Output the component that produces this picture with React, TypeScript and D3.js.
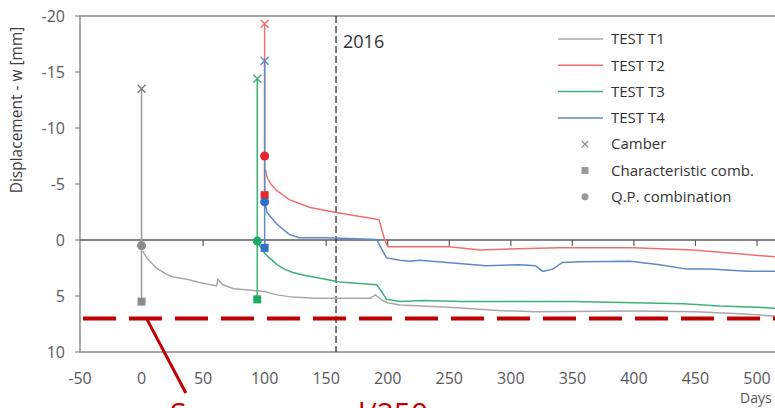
import React, { useEffect, useRef } from 'react';
import * as d3 from 'd3';

// per-test data (days since loading / displacement in mm, negative = upward)
const testNames = ['TEST T1', 'TEST T2', 'TEST T3', 'TEST T4'];
const testColors = ['#a8a8a8', '#f07070', '#3fb27a', '#5a8ac8'];
const markerColors = ['#8c8c8c', '#e8262b', '#1ea866', '#2f6fc4'];
const loadDay = [0, 100, 94, 100];
const camber = [-13.5, -19.3, -14.4, -16.0];
const charComb = [5.5, -4.0, 5.3, 0.7];
const qpComb = [0.5, -7.5, 0.1, -3.4];

const t1Days = [1, 5, 12, 20, 26, 37, 47, 61, 62, 66, 75, 91, 100, 110, 123, 140, 160, 186, 190, 196, 200, 210, 250, 290, 320, 400, 450, 490, 515];
const t1Disp = [1.0, 1.7, 2.5, 3.05, 3.3, 3.5, 3.8, 4.1, 3.5, 4.0, 4.35, 4.5, 4.6, 4.9, 5.1, 5.2, 5.2, 5.2, 4.9, 5.4, 5.6, 5.8, 6.0, 6.3, 6.4, 6.35, 6.4, 6.6, 6.8];

const t2Days = [100.5, 102, 105, 110, 120, 137, 158, 175, 191, 193, 197, 200, 250, 275, 313, 340, 360, 400, 448, 470, 492, 515];
const t2Disp = [-6.3, -5.6, -5.0, -4.4, -3.6, -2.9, -2.45, -2.15, -1.85, -1.8, -0.2, 0.6, 0.6, 0.9, 0.75, 0.7, 0.7, 0.7, 0.9, 1.1, 1.3, 1.5];

const t3Days = [95, 100, 104, 110, 116, 123, 132, 142, 161, 191, 195, 199, 210, 230, 260, 300, 350, 400, 440, 470, 500, 515];
const t3Disp = [0.3, 1.2, 1.6, 2.2, 2.6, 2.9, 3.15, 3.35, 3.75, 4.0, 4.6, 5.3, 5.5, 5.4, 5.5, 5.5, 5.5, 5.6, 5.7, 5.9, 6.0, 6.1];

const t4Days = [100, 102, 110, 120, 128, 150, 191, 195, 199, 210, 218, 226, 248, 280, 307, 320, 326, 334, 342, 356, 397, 421, 443, 462, 492, 515];
const t4Disp = [-3.4, -2.45, -1.4, -0.5, -0.2, -0.2, -0.05, 0.8, 1.6, 1.8, 1.9, 1.8, 2.0, 2.3, 2.2, 2.3, 2.8, 2.6, 2.0, 1.95, 1.9, 2.2, 2.6, 2.6, 2.8, 2.8];

const xTicks = [-50, 0, 50, 100, 150, 200, 250, 300, 350, 400, 450, 500];
const yTicks = [-20, -15, -10, -5, 0, 5, 10];
const yearDay = 158;
const limitDisp = 7;
const legendMarkers = ['Camber', 'Characteristic comb.', 'Q.P. combination'];

const FONT = '"Open Sans", sans-serif';

function App() {
  const ref = useRef<SVGSVGElement>(null);

  useEffect(() => {
    const svg = d3.select(ref.current);
    svg.selectAll('*').remove();

    const w = 775, h = 408;
    const left = 80, top = 16, bottom = 352;

    const x = d3.scaleLinear().domain([-50, 550]).range([left, left + 600 * 1.2309]);
    const y = d3.scaleLinear().domain([-20, 10]).range([top, bottom]);

    svg.attr('width', w).attr('height', h);

    // plot frame
    svg.append('path')
      .attr('d', `M${w},${top}H${left}V${bottom}H${w}`)
      .attr('fill', 'none')
      .attr('stroke', '#8a8a8a')
      .attr('stroke-width', 1.5);

    // y ticks + labels
    yTicks.forEach((t) => {
      svg.append('line')
        .attr('x1', left - 5).attr('x2', left)
        .attr('y1', y(t)).attr('y2', y(t))
        .attr('stroke', '#8a8a8a').attr('stroke-width', 1.2);
      svg.append('text')
        .attr('x', left - 15).attr('y', y(t))
        .attr('dy', '0.35em')
        .attr('text-anchor', 'end')
        .attr('font-family', FONT).attr('font-size', 16)
        .attr('fill', '#595959')
        .text(t);
    });

    // zero axis with ticks
    svg.append('line')
      .attr('x1', left).attr('x2', w)
      .attr('y1', y(0)).attr('y2', y(0))
      .attr('stroke', '#5a5a5a').attr('stroke-width', 1.5);
    xTicks.forEach((t) => {
      if (t > -50) {
        svg.append('line')
          .attr('x1', x(t)).attr('x2', x(t))
          .attr('y1', y(0)).attr('y2', y(0) + 6)
          .attr('stroke', '#5a5a5a').attr('stroke-width', 1.2);
      }
      svg.append('text')
        .attr('x', x(t)).attr('y', 378)
        .attr('dy', '0.35em')
        .attr('text-anchor', 'middle')
        .attr('font-family', FONT).attr('font-size', 16)
        .attr('fill', '#595959')
        .text(t);
    });

    svg.append('text')
      .attr('x', 740).attr('y', 403)
      .attr('font-family', FONT).attr('font-size', 14)
      .attr('fill', '#595959')
      .text('Days');

    svg.append('text')
      .attr('transform', `translate(22,${110}) rotate(-90)`)
      .attr('text-anchor', 'middle')
      .attr('font-family', FONT).attr('font-size', 15.5)
      .attr('fill', '#404040')
      .text('Displacement - w [mm]');

    // year marker
    svg.append('line')
      .attr('x1', x(yearDay)).attr('x2', x(yearDay))
      .attr('y1', top).attr('y2', bottom)
      .attr('stroke', '#333').attr('stroke-width', 1.3)
      .attr('stroke-dasharray', '7,3');
    svg.append('text')
      .attr('x', x(yearDay) + 7).attr('y', 48)
      .attr('font-family', FONT).attr('font-size', 18)
      .attr('fill', '#333')
      .text('2016');

    // time-dependent curves
    const line = d3.line<[number, number]>()
      .x((d) => x(d[0]))
      .y((d) => y(d[1]));

    const series = [
      d3.zip(t1Days, t1Disp),
      d3.zip(t2Days, t2Disp),
      d3.zip(t3Days, t3Disp),
      d3.zip(t4Days, t4Disp),
    ] as [number, number][][];

    series.forEach((s, i) => {
      svg.append('path')
        .attr('d', line(s))
        .attr('fill', 'none')
        .attr('stroke', testColors[i])
        .attr('stroke-width', 1.5);
    });

    // vertical camber lines
    testNames.forEach((_, i) => {
      svg.append('line')
        .attr('x1', x(loadDay[i])).attr('x2', x(loadDay[i]))
        .attr('y1', y(camber[i]))
        .attr('y2', y(Math.max(charComb[i], qpComb[i])))
        .attr('stroke', i === 0 ? '#9a9a9a' : testColors[i])
        .attr('stroke-width', 1.5);
    });

    const cross = 'M-4,-4L4,4M-4,4L4,-4';

    // markers
    testNames.forEach((_, i) => {
      const cx = x(loadDay[i]);
      svg.append('path')
        .attr('d', cross)
        .attr('transform', `translate(${cx},${y(camber[i])})`)
        .attr('fill', 'none')
        .attr('stroke', i === 0 ? '#7a7a7a' : testColors[i])
        .attr('stroke-width', 1.4);
      svg.append('rect')
        .attr('x', cx - 4).attr('y', y(charComb[i]) - 4)
        .attr('width', 8).attr('height', 8)
        .attr('fill', markerColors[i]);
      svg.append('circle')
        .attr('cx', cx).attr('cy', y(qpComb[i]))
        .attr('r', 4.5)
        .attr('fill', markerColors[i]);
    });

    // limit line + callout
    svg.append('line')
      .attr('x1', left + 3).attr('x2', w)
      .attr('y1', y(limitDisp)).attr('y2', y(limitDisp))
      .attr('stroke', '#c00000').attr('stroke-width', 4)
      .attr('stroke-dasharray', '33,13');
    svg.append('line')
      .attr('x1', x(4)).attr('x2', x(36))
      .attr('y1', y(limitDisp)).attr('y2', 393)
      .attr('stroke', '#c00000').attr('stroke-width', 3);
    svg.append('text')
      .attr('x', 170).attr('y', 424)
      .attr('font-family', FONT).attr('font-size', 30)
      .attr('fill', '#c00000')
      .text('Sag measure l/250');

    // legend
    const lx = 558, ly = 39, step = 26.3;
    testNames.forEach((name, i) => {
      const yy = ly + i * step;
      svg.append('line')
        .attr('x1', lx).attr('x2', lx + 45)
        .attr('y1', yy).attr('y2', yy)
        .attr('stroke', testColors[i]).attr('stroke-width', 1.5);
      svg.append('text')
        .attr('x', lx + 53).attr('y', yy)
        .attr('dy', '0.35em')
        .attr('font-family', FONT).attr('font-size', 15)
        .attr('fill', '#333')
        .text(name);
    });
    legendMarkers.forEach((name, j) => {
      const yy = ly + (4 + j) * step;
      const mx = lx + 27;
      if (j === 0) {
        svg.append('path').attr('d', cross)
          .attr('transform', `translate(${mx},${yy}) scale(0.8)`)
          .attr('fill', 'none').attr('stroke', '#8c8c8c').attr('stroke-width', 1.4);
      } else if (j === 1) {
        svg.append('rect').attr('x', mx - 3.5).attr('y', yy - 3.5)
          .attr('width', 7).attr('height', 7).attr('fill', '#999');
      } else {
        svg.append('circle').attr('cx', mx).attr('cy', yy).attr('r', 3.5).attr('fill', '#999');
      }
      svg.append('text')
        .attr('x', lx + 53).attr('y', yy)
        .attr('dy', '0.35em')
        .attr('font-family', FONT).attr('font-size', 15)
        .attr('fill', '#333')
        .text(name);
    });
  }, []);

  return (
    <svg ref={ref} style={{ position: 'absolute', left: 0, top: 0, background: '#fff' }}></svg>
  );
}

export default App;
